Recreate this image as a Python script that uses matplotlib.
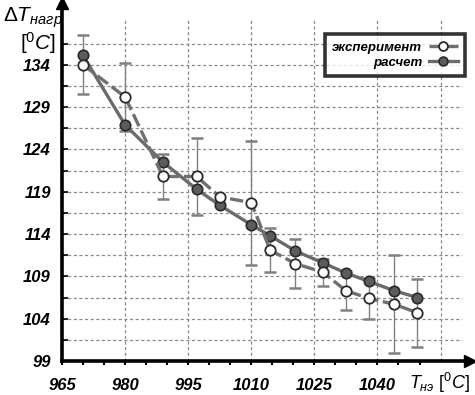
import numpy as np
import matplotlib
matplotlib.use("Agg")
from matplotlib import pyplot as plt

plt.rcParams["font.family"] = ["Liberation Sans", "DejaVu Sans"]
plt.rcParams["mathtext.fontset"] = "custom"
plt.rcParams["mathtext.rm"] = "Liberation Sans"
plt.rcParams["mathtext.it"] = "Liberation Sans:italic"
plt.rcParams["mathtext.bf"] = "Liberation Sans:bold"

# Температура (ось X) для обеих серий
t_ne = [970, 980, 989, 997, 1002.5, 1010, 1014.5, 1020.5, 1027, 1032.5, 1038, 1044, 1049.5]
# эксперимент и его разброс
dt_exp = [134.0, 130.2, 120.8, 120.8, 118.4, 117.7, 112.1, 110.5, 109.5, 107.3, 106.4, 105.7, 104.7]
dt_err = [3.5, 4.0, 2.7, 4.5, np.nan, 7.3, 2.6, 2.9, 1.6, 2.3, 2.4, 5.8, 4.0]
# расчет
dt_calc = [135.1, 126.9, 122.5, 119.3, 117.4, 115.1, 113.8, 112.0, 110.6, 109.4, 108.4, 107.3, 106.5]

x_ticks = [965, 980, 995, 1010, 1025, 1040]
y_ticks = [99, 104, 109, 114, 119, 124, 129, 134]
legend_labels = ["эксперимент", "расчет"]

fig = plt.figure(figsize=(4.75, 3.95), dpi=100)
ax = fig.add_axes([62 / 475, 34 / 395, 408 / 475, 358 / 395])
ax.set_xlim(965, 1062)
ax.set_ylim(99, 141.3)

# сетка
grid_kw = dict(color="#8a8a8a", lw=0.9, linestyles=(0, (2.5, 2)), zorder=1)
ax.hlines(np.arange(101.5, 137, 2.5), 965, 1060, **grid_kw)
ax.vlines(np.arange(980, 1056, 15), 99, 139.3, **grid_kw)

# расчет
calc_line, = ax.plot(t_ne, dt_calc, "-o", color="#6b6b6b", lw=2.4, ms=7.5,
                     mfc="#5c5c5c", mec="#2a2a2a", mew=1.2, zorder=3)

# эксперимент
eb = ax.errorbar(t_ne, dt_exp, yerr=dt_err, fmt="none", ecolor="#808080", elinewidth=1,
                 capsize=4.5, capthick=1.8, zorder=2)
for cap in eb.lines[1]:
    cap.set_color("#2e2e2e")
exp_line, = ax.plot(t_ne, dt_exp, "--o", color="#707070", lw=2.4, dashes=(4, 1.4), ms=7.5,
                    mfc="white", mec="#2a2a2a", mew=1.3, zorder=4)

# оси со стрелками
for s in ["top", "right"]:
    ax.spines[s].set_visible(False)
for s in ["left", "bottom"]:
    ax.spines[s].set_linewidth(2.6)
ax.plot(1, 0, ">k", ms=9, transform=ax.transAxes, clip_on=False, zorder=6)
ax.plot(0, 1, "^k", ms=9, transform=ax.transAxes, clip_on=False, zorder=6)

ax.set_xticks(x_ticks)
ax.set_yticks(y_ticks)
ax.set_xticks(np.arange(970, 1055, 5), minor=True)
ax.set_yticks(np.arange(101.5, 137, 2.5), minor=True)
ax.tick_params(axis="x", which="both", direction="out", length=3, width=1.5, pad=9)
ax.tick_params(axis="y", which="both", direction="in", length=4, width=1.2, pad=8)
for lab in ax.get_xticklabels() + ax.get_yticklabels():
    lab.set_fontsize(12)
    lab.set_fontweight("bold")
    lab.set_fontstyle("italic")

leg = ax.legend([exp_line, calc_line], legend_labels, loc="upper right",
                bbox_to_anchor=(0.988, 0.913), borderaxespad=0, markerfirst=False,
                fancybox=False, handlelength=2.2, labelspacing=0.2, borderpad=0.55,
                handletextpad=0.5, markerscale=0.85,
                prop=dict(style="italic", weight="semibold", size=9.5))
leg.get_frame().set_edgecolor("black")
leg.get_frame().set_linewidth(2.6)
leg.set_zorder(7)

# подписи осей
fig.text(3 / 475, 1 - 22 / 395, r"$\Delta T_{\mathit{нагр}}$", fontsize=15, ha="left", va="baseline")
fig.text(20 / 475, 1 - 50 / 395, r"$[^{0}\mathit{C}]$", fontsize=15, ha="left", va="baseline")
fig.text(409 / 475, 1 - 389 / 395, r"$T_{\mathit{нэ}}\ [^{0}\mathit{C}]$", fontsize=13,
         ha="left", va="baseline")

fig.savefig("out.png", dpi=100)
